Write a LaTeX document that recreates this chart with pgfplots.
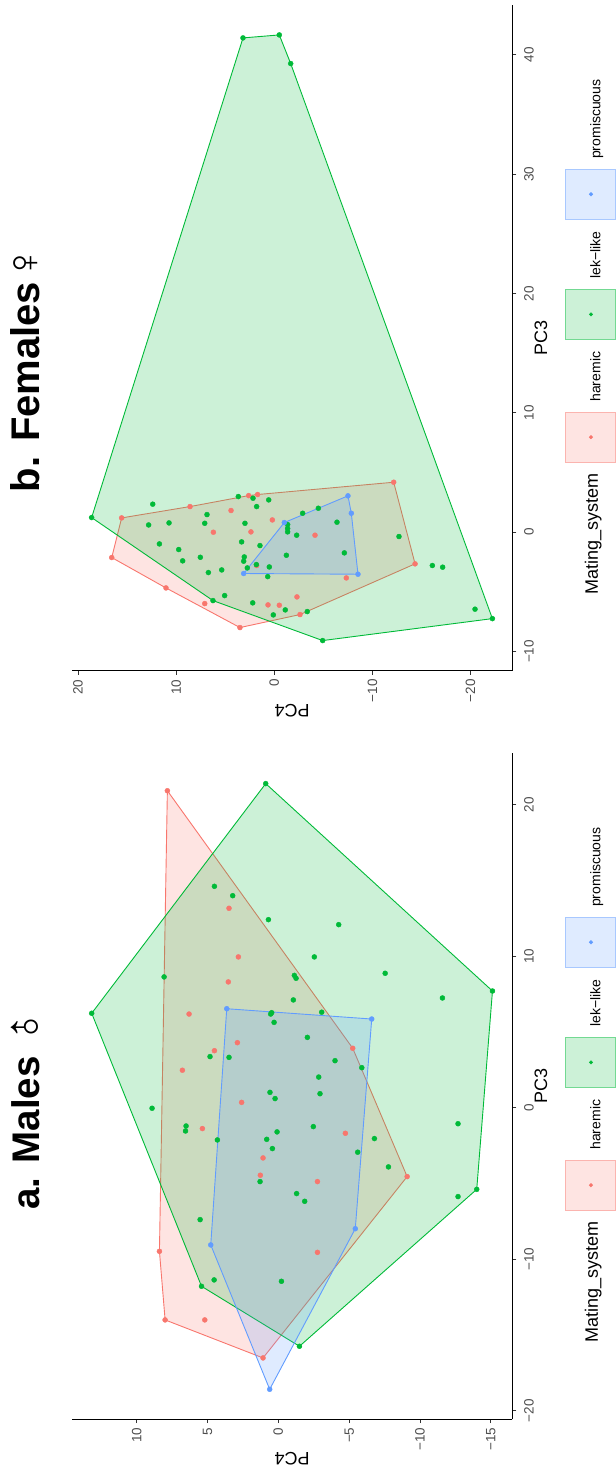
\documentclass[border=0pt]{standalone}
\usepackage{pgfplots}
\pgfplotsset{compat=1.18}
\usepackage{fontspec}
\setmainfont{Liberation Sans}
\definecolor{cR}{HTML}{F8766D}
\definecolor{cG}{HTML}{00BA38}
\definecolor{cB}{HTML}{619CFF}
\definecolor{tickgray}{HTML}{4D4D4D}
\definecolor{tickline}{HTML}{333333}
\pgfplotsset{
  ggstyle/.style={
    scale only axis, width=666bp, height=440.3bp, anchor=south west,
    axis x line*=bottom, axis y line*=left,
    axis line style={black, line width=1bp},
    tick align=outside, major tick length=4bp,
    every tick/.style={tickline, line width=1bp},
    tick label style={font=\fontsize{13.5bp}{16bp}\selectfont, text=tickgray, inner sep=0pt},
    xticklabel shift=7.7bp, yticklabel shift=4.3bp,
    every axis x label/.style={at={(axis description cs:0.5,-0.0788)}, anchor=base,
      font=\fontsize{18bp}{21bp}\selectfont, inner sep=0pt},
    every axis y label/.style={at={(axis description cs:-0.051,0.5)}, rotate=90, anchor=base,
      font=\fontsize{18bp}{21bp}\selectfont, inner sep=0pt},
    title style={inner sep=0pt, anchor=base west},
    legend columns=3,
    legend style={draw=none, fill=none, inner sep=0pt, outer sep=0pt,
      font=\fontsize{14bp}{17bp}\selectfont,
      /tikz/every odd column/.append style={column sep=10bp},
      /tikz/every even column/.append style={column sep=12bp},
      nodes={inner sep=0pt}},
    clip=false,
    xlabel={PC3}, ylabel={PC4},
  },
  pts/.style={only marks, mark=*, mark size=2.5bp, color=#1, forget plot},
  hull/.style={draw=#1, line width=0.9bp, fill=#1, fill opacity=0.2, forget plot, mark=none},
  keyR/.style={legend image code/.code={\draw[cR!55, fill=cR!20, line width=1bp] (0bp,-20bp) rectangle (50bp,30bp); \fill[cR] (25bp,5bp) circle (1.8bp);}},
  keyG/.style={legend image code/.code={\draw[cG!55, fill=cG!20, line width=1bp] (0bp,-20bp) rectangle (50bp,30bp); \fill[cG] (25bp,5bp) circle (1.8bp);}},
  keyB/.style={legend image code/.code={\draw[cB!55, fill=cB!20, line width=1bp] (0bp,-20bp) rectangle (50bp,30bp); \fill[cB] (25bp,5bp) circle (1.8bp);}},
}
\begin{document}
\begin{tikzpicture}
\useasboundingbox (0,0) rectangle (616bp,1475bp);
\begin{scope}[shift={(616bp,0bp)}, rotate=90, transform shape]
% ---------------- Panel a: Males ----------------
\begin{axis}[ggstyle, at={(56bp,103.7bp)},
  xmin=-20.55, xmax=23.41, ymin=-16.51, ymax=14.56,
  xtick={-20,-10,0,10,20}, xticklabels={−20,−10,0,10,20},
  ytick={-15,-10,-5,0,5,10}, yticklabels={−15,−10,−5,0,5,10},
  title={{\fontsize{38.5bp}{46bp}\selectfont\bfseries a. Males}\hspace{7.7bp}\raisebox{-3.5bp}{\fontsize{50bp}{52bp}\selectfont\rotatebox[origin=c]{45}{♂}}},
  title style={at={(axis description cs:0.3138,1.0613)}},
  legend style={at={(axis description cs:0.3128,-0.1787)}, anchor=west},
]
\addplot[pts=cR] coordinates {
(20.92,7.83) (3.92,-5.25) (-4.55,-9.09) (-16.52,1.08) (-14.01,7.99) (-9.48,8.39)
(13.16,3.48) (9.95,2.82) (8.30,3.53) (6.18,6.30) (4.29,2.89) (3.76,4.51) (2.47,6.77)
(0.35,2.59) (-1.38,5.36) (-1.69,-4.73) (-3.32,1.08) (-4.46,1.27) (-4.88,-2.76)
(-9.55,-2.76) (-14.01,5.19)
};
\addplot[pts=cG] coordinates {
(21.39,0.89) (7.70,-15.11) (-5.39,-14.00) (-15.75,-1.49) (-11.79,5.42) (6.23,13.17)
(14.61,4.51) (13.99,3.22) (12.41,0.70) (12.08,-4.26) (9.95,-2.54) (8.63,8.06)
(8.73,-1.13) (8.54,-1.25) (8.87,-7.54) (7.24,-11.58) (7.11,-1.06) (6.30,-3.06)
(6.27,0.47) (6.18,0.54) (5.63,0.30) (4.64,-2.05) (3.37,4.82) (3.32,3.48) (3.10,-4.00)
(2.64,-5.89) (2.02,-2.85) (0.92,-2.94) (1.01,0.59) (0.60,0.23) (-0.04,8.91)
(-1.21,6.51) (-1.54,6.55) (-1.25,-2.47) (-1.60,0.09) (-2.13,4.30) (-2.09,0.82)
(-2.04,-6.78) (-2.70,0.42) (-2.94,-5.60) (-3.91,-7.77) (-4.88,1.29) (-1.06,-12.68)
(-5.67,-1.29) (-6.18,-1.86) (-5.87,-12.68) (-7.39,5.52) (-11.37,4.53) (-11.46,-0.22)
};
\addplot[pts=cB] coordinates {
(6.53,3.64) (5.85,-6.59) (-7.99,-5.43) (-18.59,0.61) (-9.06,4.77)
};
\addplot[hull=cR] coordinates {
(20.92,7.83) (3.92,-5.25) (-4.55,-9.09) (-16.52,1.08) (-14.01,7.99) (-9.48,8.39)
} -- cycle;
\addplot[hull=cG] coordinates {
(21.39,0.89) (7.70,-15.11) (-5.39,-14.00) (-15.75,-1.49) (-11.79,5.42) (6.23,13.17)
} -- cycle;
\addplot[hull=cB] coordinates {
(6.53,3.64) (5.85,-6.59) (-7.99,-5.43) (-18.59,0.61) (-9.06,4.77)
} -- cycle;
\addlegendimage{keyR}\addlegendentry{haremic}
\addlegendimage{keyG}\addlegendentry{lek−like}
\addlegendimage{keyB}\addlegendentry{promiscuous}
\node[anchor=base east, font=\fontsize{18bp}{21bp}\selectfont, inner sep=0pt]
  at (axis description cs:0.2962,-0.1946) {Mating\_system};
\end{axis}
% ---------------- Panel b: Females ----------------
\begin{axis}[ggstyle, at={(804bp,103.7bp)},
  xmin=-11.63, xmax=44.19, ymin=-24.26, ymax=20.62,
  xtick={-10,0,10,20,30,40}, xticklabels={−10,0,10,20,30,40},
  ytick={-20,-10,0,10,20}, yticklabels={−20,−10,0,10,20},
  title={{\fontsize{40bp}{46bp}\selectfont\bfseries b. Females}\hspace{1bp}{\fontsize{46bp}{48bp}\selectfont ♀}},
  title style={at={(axis description cs:0.268,1.0613)}},
  legend style={at={(axis description cs:0.3128,-0.1787)}, anchor=west},
]
\addplot[pts=cR] coordinates {
(-2.12,16.57) (1.20,15.56) (2.15,8.59) (3.07,2.61) (3.16,1.70) (4.19,-12.17)
(-2.65,-14.35) (-6.90,-2.62) (-7.99,3.50) (-4.67,11.04)
(-5.98,7.09) (0.00,6.21) (1.82,4.41) (0.03,2.38) (1.03,0.20) (-2.79,1.80)
(-5.42,-2.31) (-6.09,0.64) (-6.12,-0.51) (-0.25,-4.15) (-3.83,-7.34)
};
\addplot[pts=cG] coordinates {
(41.43,3.19) (1.23,18.62) (-5.73,6.25) (-9.08,-4.93) (-7.24,-22.23) (39.28,-1.67) (41.68,-0.51)
(2.35,12.39) (0.61,12.81) (0.78,10.73) (-0.98,11.71) (-1.45,9.74) (-2.40,9.34)
(-2.10,7.54) (1.48,6.86) (0.75,7.09) (-3.38,6.72) (-3.16,5.36) (-5.31,5.06)
(2.99,3.67) (2.85,2.17) (2.15,1.80) (2.71,0.57) (0.75,2.99) (-0.81,3.33)
(-1.12,1.46) (-2.07,3.06) (-2.43,3.12) (-2.99,2.75) (-2.71,1.83) (-2.91,0.51)
(-3.72,0.67) (-5.92,2.20) (-6.93,0.10) (-6.51,-1.12) (-6.65,-3.36) (0.64,-1.36)
(0.31,-1.36) (0.03,-1.36) (-0.25,-2.28) (-1.93,-1.23) (1.59,-2.89) (2.01,-4.49)
(0.84,-6.39) (-1.73,-7.14) (-0.36,-12.71) (-2.79,-16.11) (-2.93,-17.16) (-6.45,-20.46)
};
\addplot[pts=cB] coordinates {
(-3.46,3.12) (0.81,-1.02) (3.05,-7.51) (1.59,-7.85) (-3.52,-8.53)
};
\addplot[hull=cR] coordinates {
(-2.12,16.57) (1.20,15.56) (2.15,8.59) (3.07,2.61) (3.16,1.70) (4.19,-12.17)
(-2.65,-14.35) (-6.90,-2.62) (-7.99,3.50) (-4.67,11.04)
} -- cycle;
\addplot[hull=cG] coordinates {
(41.43,3.19) (1.23,18.62) (-5.73,6.25) (-9.08,-4.93) (-7.24,-22.23) (39.28,-1.67) (41.68,-0.51)
} -- cycle;
\addplot[hull=cB] coordinates {
(-3.46,3.12) (0.81,-1.02) (3.05,-7.51) (1.59,-7.85) (-3.52,-8.53)
} -- cycle;
\addlegendimage{keyR}\addlegendentry{haremic}
\addlegendimage{keyG}\addlegendentry{lek−like}
\addlegendimage{keyB}\addlegendentry{promiscuous}
\node[anchor=base east, font=\fontsize{18bp}{21bp}\selectfont, inner sep=0pt]
  at (axis description cs:0.2962,-0.1946) {Mating\_system};
\end{axis}
\end{scope}
\end{tikzpicture}
\end{document}
